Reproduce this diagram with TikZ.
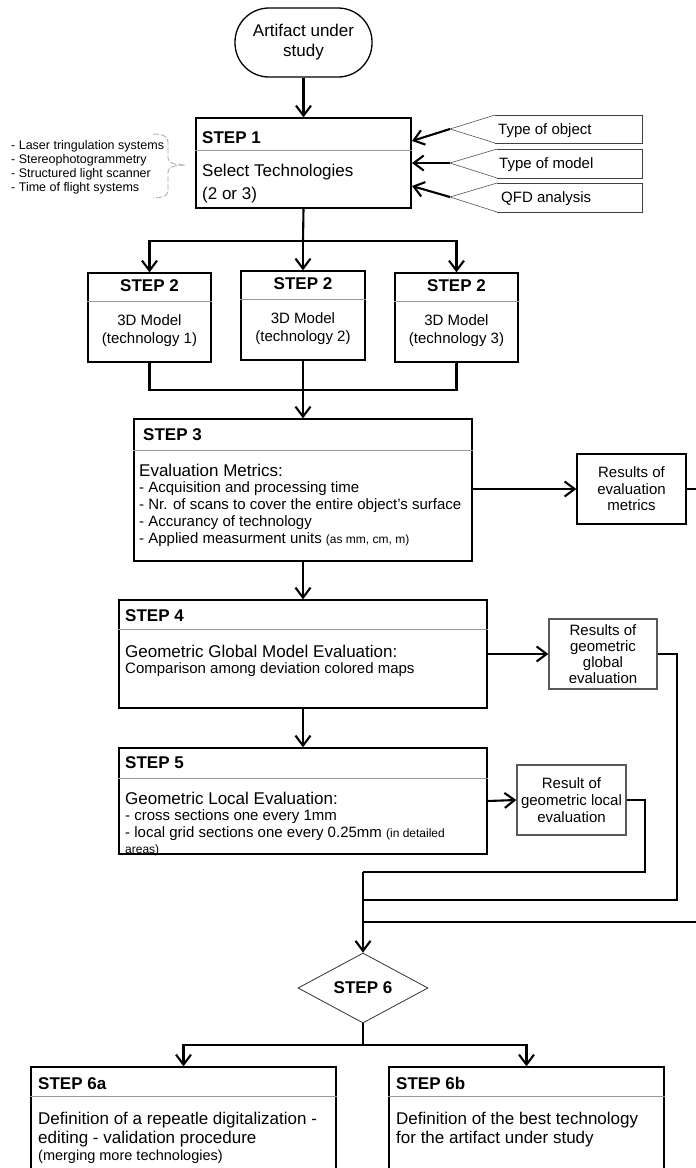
\documentclass[tikz,border=0pt]{standalone}
\usepackage{fontspec}
\setmainfont{Liberation Sans}
\usetikzlibrary{arrows.meta,shapes.geometric}
\newcommand\fhead{\fontsize{17}{20}\selectfont\bfseries}
\newcommand\fbig{\fontsize{17}{20}\selectfont}
\newcommand\fmid{\fontsize{15}{17}\selectfont}
\newcommand\fsm{\fontsize{12}{14}\selectfont}
\newcommand\flist{\fontsize{12.5}{14}\selectfont}
\begin{document}
\begin{tikzpicture}[x=1pt,y=-1pt,
  box/.style={draw=black,line width=1.3pt,rectangle,inner sep=0pt},
  gbox/.style={draw=gray!70!black,line width=1.3pt,rectangle,inner sep=0pt},
  div/.style={draw=gray!80,line width=1pt},
  txt/.style={anchor=base west,inner sep=0pt},
  ctxt/.style={anchor=base,inner sep=0pt},
  wire/.style={line width=2.1pt},
  conn/.style={line width=2.1pt,-{Straight Barb[length=10pt,width=15pt,line width=2.1pt]}},
  callout/.style={draw=gray!50!black,line width=0.8pt},
  bracestyle/.style={draw=gray!60,line width=0.9pt,dash pattern=on 6pt off 2pt}
]
\useasboundingbox (0,0) rectangle (696,1168);
\clip (0,0) rectangle (696,1168);
\fill[white] (0,0) rectangle (696,1168);

% Artifact
\node[draw=black,line width=1.3pt,rounded corners=34pt,minimum width=137pt,minimum height=69pt,inner sep=0pt,font=\fbig,align=center] (art) at (303.5,42.5) {Artifact under\\[0pt]study};

% STEP 1
\node[box,minimum width=215pt,minimum height=90pt] (s1) at (303.5,163) {};
\draw[div] (s1.west |- 0,150) -- (s1.east |- 0,150);
\node[txt,font=\fhead] (s1h) at (202,143) {STEP 1};
\node[txt,font=\fbig] (s1a) at (202,176) {Select Technologies};
\node[txt,font=\fbig] (s1b) at (202,199) {(2 or 3)};

% technologies list and brace
\node[anchor=west,align=left,font=\flist,inner sep=0pt] (techs) at (11,167) {- Laser tringulation systems\\- Stereophotogrammetry\\- Structured light scanner\\- Time of flight systems};
\draw[bracestyle] (153,134) .. controls (162,134) and (168,136) .. (168,142) -- (168,158) .. controls (168,163) and (175,165) .. (185,165);
\draw[bracestyle] (185,165) .. controls (175,165) and (168,167) .. (168,172) -- (168,191) .. controls (168,196) and (162,198) .. (153,198);

% callouts
\draw[callout] (495,115) -- (642,115) -- (642,143) -- (495,143);
\draw[callout,draw=gray!65!black,line width=0.6pt] (495,115) -- (450,129) -- (495,143);
\coordinate (c1) at (450,129);
\node[txt,font=\fmid] (c1t) at (498,134) {Type of object};
\draw[callout] (497,149) -- (642,149) -- (642,178) -- (497,178);
\draw[callout,draw=gray!65!black,line width=0.6pt] (497,149) -- (450,163) -- (497,178);
\coordinate (c2) at (450,163);
\node[txt,font=\fmid] (c2t) at (499,168) {Type of model};
\draw[callout] (497,183) -- (642,183) -- (642,212) -- (497,212);
\draw[callout,draw=gray!65!black,line width=0.6pt] (497,183) -- (450,197) -- (497,212);
\coordinate (c3) at (450,197);
\node[txt,font=\fmid] (c3t) at (501,202) {QFD analysis};
\coordinate (s1in1) at (412,141);
\coordinate (s1in2) at (412,163);
\coordinate (s1in3) at (412,186);
\draw[conn] (c1) -- (s1in1);
\draw[conn] (c2) -- (s1in2);
\draw[conn] (c3) -- (s1in3);

\draw[conn] (art) -- (s1);

% STEP 2
\node[box,minimum width=123pt,minimum height=89pt] (s2a) at (149.5,317.5) {};
\node[box,minimum width=124pt,minimum height=89pt] (s2b) at (303,315.5) {};
\node[box,minimum width=123pt,minimum height=89pt] (s2c) at (456.5,317.5) {};
\draw[div] (s2a.west |- 0,301) -- (s2a.east |- 0,301);
\draw[div] (s2b.west |- 0,299) -- (s2b.east |- 0,299);
\draw[div] (s2c.west |- 0,301) -- (s2c.east |- 0,301);
\node[ctxt,font=\fhead] (s2ah) at (149.5,291) {STEP 2};
\node[ctxt,font=\fmid] (s2a1) at (149.5,325) {3D Model};
\node[ctxt,font=\fmid] (s2a2) at (149.5,343) {(technology 1)};
\node[ctxt,font=\fhead] (s2bh) at (303,289) {STEP 2};
\node[ctxt,font=\fmid] (s2b1) at (303,323) {3D Model};
\node[ctxt,font=\fmid] (s2b2) at (303,341) {(technology 2)};
\node[ctxt,font=\fhead] (s2ch) at (456.5,291) {STEP 2};
\node[ctxt,font=\fmid] (s2c1) at (456.5,325) {3D Model};
\node[ctxt,font=\fmid] (s2c2) at (456.5,343) {(technology 3)};

\coordinate (j1) at (303,241);
\draw[wire] (s1.south) -- (j1);
\draw[conn] (j1) -| (s2a.north);
\draw[conn] (j1) -| (s2c.north);
\draw[conn] (j1) -- (s2b.north);

% STEP 3
\node[box,minimum width=338pt,minimum height=142pt] (s3) at (303,490) {};
\draw[div] (s3.west |- 0,450) -- (s3.east |- 0,450);
\node[txt,font=\fhead] (s3h) at (143,440) {STEP 3};
\node[txt,font=\fbig] (s3a) at (139,476) {Evaluation Metrics:};
\node[txt,font=\fmid] (s3b) at (139,492) {- Acquisition and processing time};
\node[txt,font=\fmid] (s3c) at (139,509) {- Nr. of scans to cover the entire object's surface};
\node[txt,font=\fmid] (s3d) at (139,526) {- Accurancy of technology};
\node[txt,font=\fmid] (s3e) at (139,543) {- Applied measurment units {\fsm (as mm, cm, m)}};

\coordinate (j2) at (303,390);
\draw[wire] (s2a.south) |- (j2) -| (s2c.south);
\draw[conn] (s2b.south) -- (s3.north);

% results of evaluation metrics
\node[box,minimum width=109pt,minimum height=70pt,align=center,font=\fontsize{15}{16.5}\selectfont] (r3) at (631.5,489) {Results of\\evaluation\\metrics};
\draw[conn] (s3.east |- r3.west) -- (r3.west);

% STEP 4
\node[box,minimum width=368pt,minimum height=108pt] (s4) at (303,654) {};
\draw[div] (s4.west |- 0,629) -- (s4.east |- 0,629);
\node[txt,font=\fhead] (s4h) at (125,621) {STEP 4};
\node[txt,font=\fbig] (s4a) at (125,657) {Geometric Global Model Evaluation:};
\node[txt,font=\fmid] (s4b) at (125,673) {Comparison among deviation colored maps};
\draw[conn] (s3.south) -- (s4.north);

\node[gbox,minimum width=108pt,minimum height=70pt,align=center,font=\fontsize{15}{16}\selectfont] (r4) at (603,654) {Results of\\geometric\\global\\evaluation};
\draw[conn] (s4.east) -- (r4.west);

% STEP 5
\node[box,minimum width=368pt,minimum height=106pt] (s5) at (303,801) {};
\draw[div] (s5.west |- 0,778) -- (s5.east |- 0,778);
\node[txt,font=\fhead] (s5h) at (125,768) {STEP 5};
\node[txt,font=\fbig] (s5a) at (125,804) {Geometric Local Evaluation:};
\node[txt,font=\fmid] (s5b) at (125,820) {- cross sections one every 1mm};
\node[txt,font=\fmid] (s5c) at (125,837) {- local grid sections one every 0.25mm {\fsm (in detailed}};
\node[txt,font=\fsm] (s5d) at (125,853) {areas)};
\draw[conn] (s4.south) -- (s5.north);

\node[gbox,minimum width=109pt,minimum height=70pt,align=center,font=\fontsize{15}{17}\selectfont] (r5) at (571.5,800) {Result of\\geometric local\\evaluation};
\draw[conn] (s5.east) -- (r5.west);

% STEP 6
\node[draw=gray!40!black,line width=0.8pt,diamond,aspect=1.857,minimum width=130pt,minimum height=70pt,inner sep=0pt,font=\fhead] (s6) at (363,988) {STEP 6};

\coordinate (j6a) at (363,872);
\coordinate (j6b) at (363,900);
\coordinate (j6c) at (363,922);
\draw[wire] (r5.east) -- ++(18,0) |- (j6a);
\draw[wire] (r4.east) -- ++(19,0) |- (j6b);
\draw[wire] (r3.east) -- ++(40,0) |- (j6c);
\draw[conn] (j6a) -- (s6.north);

% STEP 6a / 6b
\node[box,minimum width=305pt,minimum height=123pt] (s6a) at (183.5,1128.5) {};
\node[box,minimum width=275pt,minimum height=123pt] (s6b) at (526.5,1128.5) {};
\draw[div] (s6a.west |- 0,1096) -- (s6a.east |- 0,1096);
\draw[div] (s6b.west |- 0,1096) -- (s6b.east |- 0,1096);
\node[txt,font=\fhead] (s6ah) at (38,1089) {STEP 6a};
\node[txt,font=\fbig] (s6a1) at (38,1124) {Definition of a repeatle digitalization -};
\node[txt,font=\fbig] (s6a2) at (38,1143) {editing - validation procedure};
\node[txt,font=\fontsize{14.5}{16}\selectfont] (s6a3) at (38,1160) {(merging more technologies)};
\node[txt,font=\fhead] (s6bh) at (396,1089) {STEP 6b};
\node[txt,font=\fbig] (s6b1) at (396,1124) {Definition of the best technology};
\node[txt,font=\fbig] (s6b2) at (396,1143) {for the artifact under study};

\coordinate (j7) at (363,1045);
\draw[wire] (s6.south) -- (j7);
\draw[conn] (j7) -| (s6a.north);
\draw[conn] (j7) -| (s6b.north);
\end{tikzpicture}
\end{document}
